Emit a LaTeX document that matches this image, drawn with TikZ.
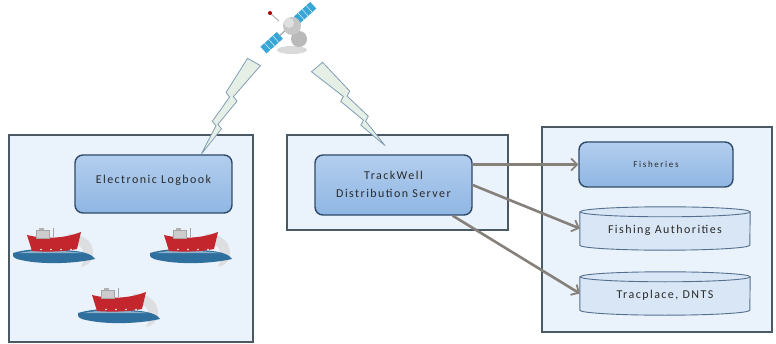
\documentclass[tikz,border=0pt]{standalone}
\usepackage{fontspec}
\setmainfont{Carlito}
\usetikzlibrary{arrows.meta,calc}

\definecolor{panelfill}{HTML}{EAF2FB}
\definecolor{panelline}{HTML}{4B5965}
\definecolor{boxtop}{HTML}{B3CEEE}
\definecolor{boxbottom}{HTML}{8FB6E3}
\definecolor{boxline}{HTML}{2F4A68}
\definecolor{drumfill}{HTML}{D9E6F5}
\definecolor{drumline}{HTML}{55708F}
\definecolor{linkgray}{HTML}{85807A}
\definecolor{boltfill}{HTML}{E6EFE6}
\definecolor{boltline}{HTML}{7F9DB5}
\definecolor{satblue}{HTML}{38A6D6}
\definecolor{hullred}{HTML}{C4262D}
\definecolor{seablue}{HTML}{2F6F9E}
\definecolor{textdark}{HTML}{2A2A2A}

% draws a vertical drum (cylinder) over the area of a named node
\newcommand{\drawdrum}[1]{%
  \path[drum] ($(#1.north west)+(0,-5)$) -- ($(#1.south west)+(0,5)$)
    arc[start angle=180,end angle=360,x radius=85,y radius=5]
    -- ($(#1.north east)+(0,-5)$)
    arc[start angle=0,end angle=180,x radius=85,y radius=5] -- cycle;
  \draw[drumline,line width=0.9pt] ($(#1.north east)+(0,-5)$)
    arc[start angle=0,end angle=-180,x radius=85,y radius=5];
}

\tikzset{
  labelfont/.style={font=\fontsize{12}{18}\selectfont\addfontfeature{LetterSpace=12}},
  panel/.style={draw=panelline, line width=1.4pt, fill=panelfill, inner sep=0pt},
  unit/.style={draw=boxline, line width=1.4pt, rounded corners=8pt,
    top color=boxtop, bottom color=boxbottom, inner sep=0pt, align=center,
    text=textdark, labelfont},
  drumarea/.style={inner sep=0pt, text=textdark, labelfont},
  drum/.style={draw=drumline, line width=0.9pt, fill=drumfill},
  link/.style={draw=linkgray, line width=2.6pt,
    -{Straight Barb[length=6pt,width=12pt,line width=1.8pt]}},
  boltstyle/.style={fill=boltfill, draw=boltline, line width=0.8pt, line join=miter},
  bolt/.pic={
    \filldraw[boltstyle] (-0.07,0) -- (-0.09,-0.38) -- (-0.04,-0.40) -- (-0.07,-0.68)
      -- (-0.02,-0.70) -- (-0.01,-1) -- (0.04,-0.70) -- (-0.01,-0.68) -- (0.04,-0.40)
      -- (-0.01,-0.38) -- (0.07,0) -- cycle;
  },
  ship/.pic={
    % wake
    \fill[gray!30, opacity=0.8] (55,31) .. controls (75,32) and (83,18) .. (79,6)
      .. controls (77,2) and (73,-1) .. (68,-2)
      .. controls (74,8) and (72,22) .. (55,24) -- cycle;
    % sea swoosh
    \fill[seablue] (0,12) .. controls (20,18) and (45,16) .. (62,14)
      .. controls (72,13) and (80,10) .. (82,6)
      .. controls (60,1) and (25,0) .. (4,6) .. controls (0,8) .. cycle;
    \fill[seablue!55!white] (6,12) .. controls (25,16) and (45,15) .. (70,12)
      .. controls (45,12) and (25,12) .. cycle;
    % hull
    \fill[hullred] (14,30) .. controls (30,26) and (50,26) .. (68,33)
      -- (64,16) .. controls (50,13) and (30,13) .. (19,14) -- cycle;
    \foreach \dx in {28,38,48,58} \fill[white] (\dx,15.5) circle (0.9);
    % cabin and post
    \filldraw[fill=gray!40, draw=gray!70, line width=0.5pt] (23,27) rectangle (36,35);
    \fill[gray!60] (26,35) rectangle (31,37);
    \draw[gray!70, line width=1pt] (40,28) -- (40,37);
  }
}

\begin{document}
\begin{tikzpicture}[x=1pt,y=1pt]
\useasboundingbox (0,0) rectangle (776,343);
\fill[white] (0,0) rectangle (776,343);

% three system areas
\node[panel, minimum width=244pt, minimum height=207pt] (vessels) at (131,104.5) {};
\node[panel, minimum width=221pt, minimum height=95pt] (central) at (397.5,160.5) {};
\node[panel, minimum width=230pt, minimum height=205pt] (receivers) at (657,113.5) {};

% units
\node[unit, minimum width=157pt, minimum height=58pt] (lb) at (153.5,159)
  {\raisebox{10pt}{Electronic Logbook}};
\node[unit, minimum width=157pt, minimum height=60pt] (tw) at (393.5,158)
  {\raisebox{6pt}{\begin{tabular}{@{}c@{}}TrackWell\\Distribution Server\end{tabular}}};
\node[unit, minimum width=154pt, minimum height=45pt,
      font=\fontsize{9}{11}\selectfont\addfontfeature{LetterSpace=18}] (fi) at (656,178.5) {Fisheries};

% databases
\node[drumarea, minimum width=170pt, minimum height=43pt] (fa) at (665,114.5) {};
\drawdrum{fa}
\node[drumarea] at ($(fa.center)+(0,-2)$) {Fishing Authorities};
\node[drumarea, minimum width=170pt, minimum height=43pt] (tp) at (665,49.5) {};
\drawdrum{tp}
\node[drumarea] at ($(tp.center)+(0,-2)$) {Tracplace, DNTS};

% data links
\draw[link] (tw.east |- fi.west) -- (fi.west);
\draw[link] (tw.east) -- (fa.west);
\draw[link] ([xshift=-20pt]tw.south east) -- (tp.west);

% radio links
\pic[rotate=-29.2, scale=106] at (254,281) {bolt};
\pic[rotate=40.3, xscale=-104, yscale=104] at (317,276) {bolt};

% satellite
\begin{scope}[shift={(288,315)}]
  \fill[gray!30] (4,-22) ellipse (15 and 4);
  \begin{scope}[rotate=42]
    \fill[satblue] (-33,-4.5) rectangle (-11,4.5);
    \fill[satblue] (12,-4.5) rectangle (34,4.5);
    \foreach \u in {-27.5,-22,-16.5,17.5,23,28.5}
      \draw[white, line width=0.4pt] (\u,-4.5) -- (\u,4.5);
    \draw[gray!60, line width=1.5pt] (-11,0) -- (12,0);
  \end{scope}
  \fill[gray!55] (11,-11) circle (8);
  \fill[gray!45] (4,2) circle (9);
  \fill[gray!25] (1,5) circle (5);
  \draw[gray!60, line width=1pt] (-17,14) -- (-9,7);
  \fill[red!70!black] (-18,15) circle (2);
\end{scope}

% vessels
\pic at (13,78) {ship};
\pic at (150,78) {ship};
\pic at (78,18) {ship};
\end{tikzpicture}
\end{document}
